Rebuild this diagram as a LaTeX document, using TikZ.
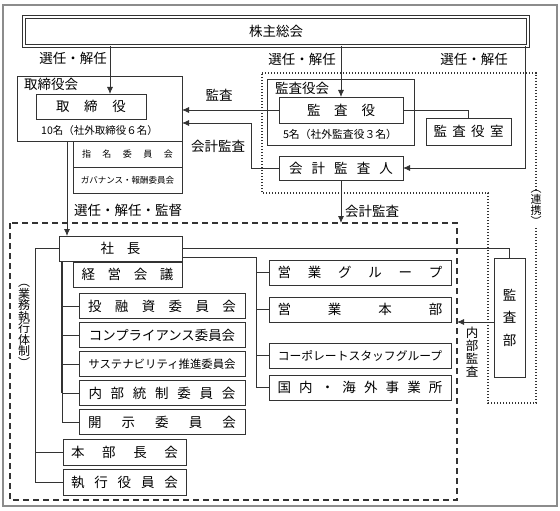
\documentclass[tikz,border=0pt]{standalone}
\usepackage{fontspec}
\setmainfont{Noto Sans CJK JP}
\usepackage{tikz}
\usetikzlibrary{arrows.meta}
\definecolor{linegray}{HTML}{333333}
\definecolor{framegray}{HTML}{8C8C8C}
\newcommand{\spr}[2]{\makebox[#1][s]{#2}}
\tikzset{
	box/.style={draw=linegray, line width=0.8pt, inner sep=0pt, outer sep=0pt, font=\fontsize{13.5}{15}\selectfont},
	lbl/.style={inner sep=0pt, font=\fontsize{13.5}{15}\selectfont},
	vlbl/.style={inner sep=0pt, align=center, font=\fontsize{12.5}{12.8}\selectfont},
	conn/.style={draw=linegray, line width=0.8pt},
	arr/.style={conn, -{Latex[length=7pt,width=6pt]}}
}

\begin{document}
\begin{tikzpicture}[x=1pt, y=-1pt]
		\useasboundingbox (0,0) rectangle (560,511);
		% frame and regions
		\draw[framegray, line width=1.5pt] (3,5) rectangle (557,506);
		\draw[linegray, line width=1.6pt, dash pattern=on 1.4pt off 1.6pt] (262,73) -- (536,73) -- (536,403) -- (488,403) -- (488,193) -- (262,193) -- cycle;
		\draw[linegray, line width=1.3pt, dash pattern=on 6pt off 4pt] (10,223) rectangle (457,500);
		% shareholders
		\node[box, double, double distance=1.3pt, line width=0.9pt, minimum width=504, minimum height=29] (gm) at (276,31.5) {株主総会};
		% board
		\node[box, minimum width=165, minimum height=65] (bd) at (99.5,108.5) {};
		\node[lbl, anchor=west] (bdlbl) at (24,84) {取締役会};
		\node[box, minimum width=110, minimum height=25] (dir) at (91,106.5) {\spr{70pt}{取\hfill 締\hfill 役}};
		\node[lbl, font=\fontsize{10.5}{12}\selectfont] (dirnum) at (99.5,131) {10名（社外取締役６名）};
		\node[box, minimum width=109, minimum height=26, font=\fontsize{9}{10}\selectfont] (nom) at (127.5,154) {\spr{91pt}{指\hfill 名\hfill 委\hfill 員\hfill 会}};
		\node[box, minimum width=109, minimum height=26, font=\fontsize{8.5}{10}\selectfont] (gov) at (127.5,180) {ガバナンス・報酬委員会};
		% auditors
		\node[box, minimum width=147, minimum height=66] (kab) at (340.5,112) {};
		\node[lbl, anchor=west] (kablbl) at (275,88) {監査役会};
		\node[box, minimum width=124, minimum height=26] (aud) at (341,110) {\spr{68pt}{監\hfill 査\hfill 役}};
		\node[lbl, font=\fontsize{10.8}{12}\selectfont] (audnum) at (340,134) {5名（社外監査役３名）};
		\node[box, minimum width=85, minimum height=27] (aro) at (468.5,131.5) {\spr{70pt}{監\hfill 査\hfill 役\hfill 室}};
		\node[box, minimum width=124, minimum height=24] (acc) at (341,168) {\spr{104pt}{会\hfill 計\hfill 監\hfill 査\hfill 人}};
		% executive
		\node[box, minimum width=123, minimum height=25] (pres) at (120.5,248.5) {\spr{40pt}{社\hfill 長}};
		\node[box, minimum width=109, minimum height=25] (mgm) at (127.5,274.5) {\spr{92pt}{経\hfill 営\hfill 会\hfill 議}};
		\node[box, minimum width=166, minimum height=25] (c1) at (162,306) {\spr{148pt}{投\hfill 融\hfill 資\hfill 委\hfill 員\hfill 会}};
		\node[box, minimum width=166, minimum height=25, font=\fontsize{13.4}{15}\selectfont] (c2) at (162,335) {コンプライアンス委員会};
		\node[box, minimum width=166, minimum height=25, font=\fontsize{11.4}{13}\selectfont] (c3) at (162,364) {サステナビリティ推進委員会};
		\node[box, minimum width=166, minimum height=25] (c4) at (162,393) {\spr{147pt}{内\hfill 部\hfill 統\hfill 制\hfill 委\hfill 員\hfill 会}};
		\node[box, minimum width=166, minimum height=25] (c5) at (162,422) {\spr{148pt}{開\hfill 示\hfill 委\hfill 員\hfill 会}};
		\node[box, minimum width=123, minimum height=26] (hq) at (124.5,452) {\spr{107pt}{本\hfill 部\hfill 長\hfill 会}};
		\node[box, minimum width=123, minimum height=26] (exe) at (124.5,482) {\spr{107pt}{執\hfill 行\hfill 役\hfill 員\hfill 会}};
		\node[box, minimum width=182, minimum height=25] (sg) at (360,272.5) {\spr{165pt}{営\hfill 業\hfill グ\hfill ル\hfill ー\hfill プ}};
		\node[box, minimum width=182, minimum height=25] (sh) at (360,309.5) {\spr{165pt}{営\hfill 業\hfill 本\hfill 部}};
		\node[box, minimum width=182, minimum height=25, font=\fontsize{11.8}{13}\selectfont] (cs) at (360,355.5) {コーポレートスタッフグループ};
		\node[box, minimum width=182, minimum height=25] (dm) at (360,387.5) {\spr{165pt}{国\hfill 内\hfill ・\hfill 海\hfill 外\hfill 事\hfill 業\hfill 所}};
		\node[box, minimum width=31, minimum height=119, align=center, font=\fontsize{13.5}{22.5}\selectfont] (ia) at (509.5,317.5) {監\\査\\部};
		% labels
		\node[lbl] (l1) at (73,58) {選任・解任};
		\node[lbl] (l2) at (302,59) {選任・解任};
		\node[lbl] (l3) at (474,59) {選任・解任};
		\node[lbl] (l4) at (219,95) {監査};
		\node[lbl] (l5) at (218,146) {会計監査};
		\node[lbl] (l6) at (128,210) {選任・解任・監督};
		\node[lbl, anchor=west] (l7) at (345,211) {会計監査};
		\node[vlbl] (l8) at (472,352) {内\\部\\監\\査};
		\node[vlbl, font=\fontsize{12}{11.5}\selectfont] (l9) at (24,326) {︵\\業\\務\\執\\行\\体\\制\\︶};
		\node[vlbl, fill=white, font=\fontsize{11}{11}\selectfont] (l10) at (536,208) {︵\\連\\携\\︶};
		% connectors
		\coordinate (x1) at (110,0);
		\coordinate (x3) at (525,0);
		\coordinate (x5) at (251,123);
		\coordinate (x6) at (67,0);
		\coordinate (exetop) at (341,223);
		\coordinate (exeright) at (457,322);
		\coordinate (x11) at (256,257);
		\coordinate (x12) at (62,0);
		\coordinate (x13) at (35,0);
		\draw[arr] (x1 |- gm.south) -- (x1 |- dir.north);
		\draw[arr] (gm.south -| aud) -- (aud.north);
		\draw[arr] (x3 |- gm.south) |- (acc.east);
		\draw[arr] (aud.west) -- (aud.west -| bd.east);
		\draw[arr] (acc.west) -| (x5) -- (x5 -| bd.east);
		\draw[arr] (x6 |- bd.south) -- (x6 |- pres.north);
		\draw[arr] (acc.south) -- (exetop);
		\draw[conn] (aud.east) -| (aro.north);
		\draw[conn] (pres.east) -| (ia.north);
		\draw[arr] (ia.west |- exeright) -- (exeright);
		% right branch
		\draw[conn] (pres.east |- x11) -- (x11) |- (dm.west);
		\foreach \n in {sg,sh,cs} \draw[conn] (x11 |- \n.west) -- (\n.west);
		% left branches
		\draw[conn, line width=1.5pt] (x12 |- pres.south) -- (x12 |- c4.west);
		\draw[conn] (x12 |- c4.west) |- (c5.west);
		\foreach \n in {c1,c2,c3,c4} \draw[conn] (x12 |- \n.west) -- (\n.west);
		\draw[conn] (pres.west) -| (x13 |- exe.west) -- (exe.west);
		\draw[conn] (x13 |- hq.west) -- (hq.west);
	\end{tikzpicture}
\end{document}
